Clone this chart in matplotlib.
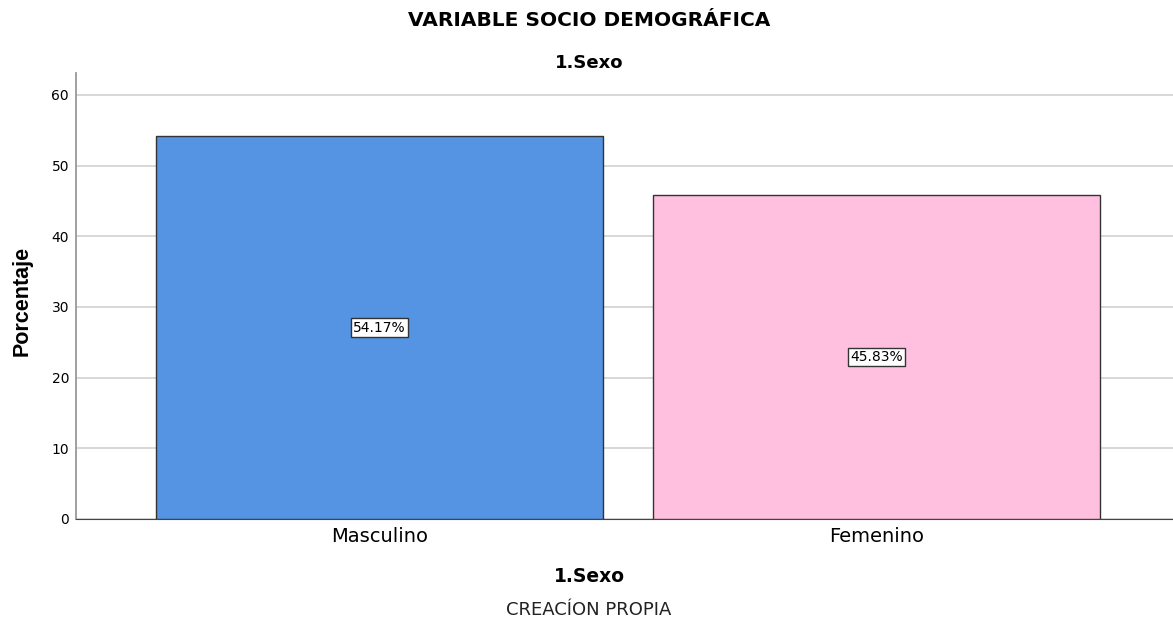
import matplotlib
matplotlib.use('Agg')
import matplotlib.pyplot as plt

categories = ['Masculino', 'Femenino']
percentages = [54.17, 45.83]
labels = ['54.17%', '45.83%']
colors = ['#5594E3', '#FFC0E0']

plt.rcParams['font.family'] = ['DejaVu Sans']

W, H = 1173, 622
fig = plt.figure(figsize=(W / 100, H / 100), dpi=100)
ax = fig.add_axes([76 / W, 1 - 519 / H, 1 - 76 / W, (519 - 73) / H])

x = list(range(len(categories)))
ax.bar(x, percentages, width=0.9, color=colors, edgecolor='#333333', linewidth=1.0, zorder=3)

# etiquetas de porcentaje en el centro de cada barra
for xi, val, lab in zip(x, percentages, labels):
    ax.text(xi, val / 2, lab, ha='center', va='center', fontsize=10, zorder=4,
            bbox=dict(boxstyle='square,pad=0.15', facecolor='white', edgecolor='#333333', linewidth=1))

ax.set_xlim(-0.611, 1.597)
ax.set_ylim(0, 63.1)
ax.set_yticks([0, 10, 20, 30, 40, 50, 60])
ax.set_xticks(x)
ax.set_xticklabels(categories, fontsize=14)
ax.tick_params(axis='y', length=0, labelsize=10, pad=5)
ax.tick_params(axis='x', length=0, pad=6)
ax.grid(axis='y', color='#d4d4d4', linewidth=1.3, zorder=0)
ax.set_axisbelow(True)

for s in ['top', 'right']:
    ax.spines[s].set_visible(False)
ax.spines['left'].set_color('#999999')
ax.spines['left'].set_linewidth(1.3)
ax.spines['bottom'].set_color('#444444')

fig.text(22 / W, 1 - 301 / H, 'Porcentaje', rotation=90, ha='center', va='center',
         fontsize=15.5, fontweight='bold', family=['Liberation Sans', 'DejaVu Sans'])

cx = 589 / W
fig.text(cx, 1 - 26 / H, 'VARIABLE SOCIO DEMOGRÁFICA', ha='center', va='baseline',
         fontsize=14.5, fontweight='bold')
fig.text(cx, 1 - 68 / H, '1.Sexo', ha='center', va='baseline', fontsize=13, fontweight='bold')
fig.text(cx, 1 - 582 / H, '1.Sexo', ha='center', va='baseline', fontsize=13.5, fontweight='bold')
fig.text(cx, 1 - 615 / H, 'CREACÍON PROPIA', ha='center', va='baseline', fontsize=13, color='#222222')

fig.savefig('out.png', dpi=100)
